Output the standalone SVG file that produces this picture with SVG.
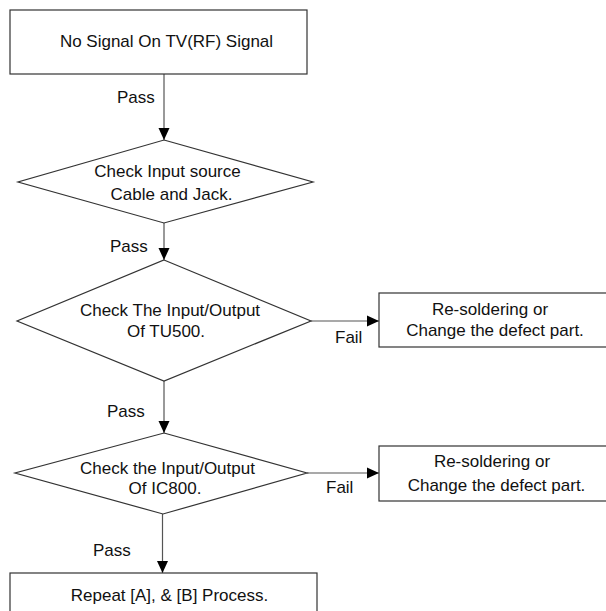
<svg xmlns="http://www.w3.org/2000/svg" width="606" height="611" viewBox="0 0 606 611">
<style>
.box{fill:#fff;stroke:#333;stroke-width:1.2}
.conn{fill:none;stroke:#555;stroke-width:1.2}
text{font-family:"Liberation Sans",Arial,sans-serif;font-size:17px;fill:#111}
.c{text-anchor:middle}
</style>
<defs>
<marker id="ah" markerUnits="userSpaceOnUse" markerWidth="12" markerHeight="12" viewBox="0 0 12 11" refX="12" refY="5.5" orient="auto">
<path d="M0,0 L12,5.5 L0,11 Z" fill="#000"/>
</marker>
</defs>
<rect width="606" height="611" fill="#fff"/>
<g id="connectors">
<line class="conn" x1="164" y1="74" x2="164" y2="140" marker-end="url(#ah)"/>
<text x="117" y="103">Pass</text>
<line class="conn" x1="164" y1="223" x2="164" y2="260" marker-end="url(#ah)"/>
<text x="110" y="252">Pass</text>
<line class="conn" x1="311" y1="321" x2="379" y2="321" marker-end="url(#ah)"/>
<text x="335" y="343">Fail</text>
<line class="conn" x1="164" y1="381" x2="164" y2="433" marker-end="url(#ah)"/>
<text x="107" y="417">Pass</text>
<line class="conn" x1="307" y1="473" x2="379" y2="473" marker-end="url(#ah)"/>
<text x="326" y="493">Fail</text>
<line class="conn" x1="162.5" y1="514" x2="162.5" y2="573" marker-end="url(#ah)"/>
<text x="93" y="556">Pass</text>
</g>
<g id="start">
<rect class="box" x="10" y="10" width="297" height="64"/>
<text class="c" x="166.5" y="47">No Signal On TV(RF) Signal</text>
</g>
<g id="check-input">
<polygon class="box" points="164,140 313,182 164,223 18,182"/>
<text class="c" x="167.5" y="177">Check Input source</text>
<text class="c" x="171.5" y="200">Cable and Jack.</text>
</g>
<g id="check-tu500">
<polygon class="box" points="164,260 311,321 164,381 17,321"/>
<text class="c" x="170" y="316">Check The Input/Output</text>
<text class="c" x="166" y="337">Of TU500.</text>
</g>
<g id="fix-tu500">
<rect class="box" x="379" y="293" width="235" height="54"/>
<text class="c" x="490" y="315">Re-soldering or</text>
<text class="c" x="495" y="336">Change the defect part.</text>
</g>
<g id="check-ic800">
<polygon class="box" points="164,433 307,473 163,514 15,473"/>
<text class="c" x="167.5" y="474">Check the Input/Output</text>
<text class="c" x="165" y="494">Of IC800.</text>
</g>
<g id="fix-ic800">
<rect class="box" x="379" y="446" width="235" height="55"/>
<text class="c" x="492" y="467">Re-soldering or</text>
<text class="c" x="496.5" y="491">Change the defect part.</text>
</g>
<g id="repeat">
<rect class="box" x="10" y="573" width="307" height="50"/>
<text class="c" x="169.5" y="601">Repeat [A], &amp; [B] Process.</text>
</g>
</svg>
